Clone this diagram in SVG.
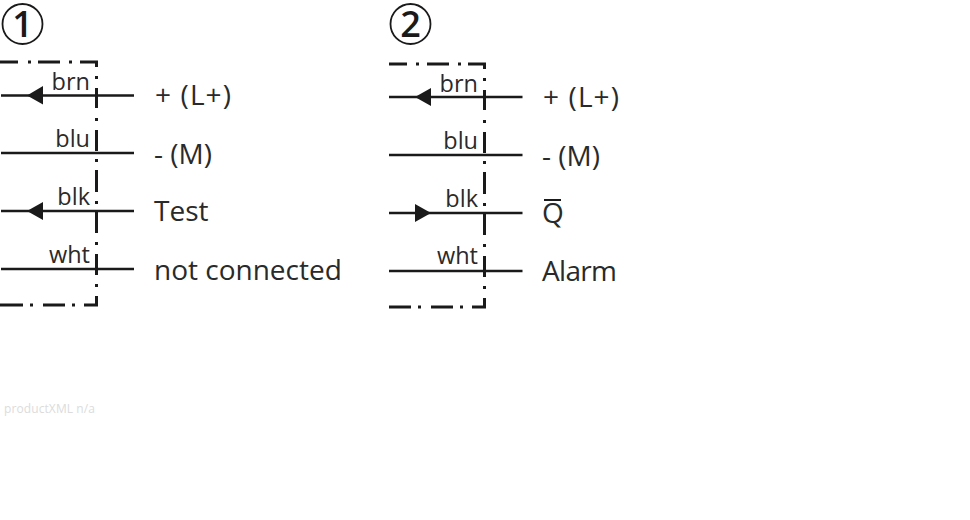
<svg xmlns="http://www.w3.org/2000/svg" width="970" height="520" viewBox="0 0 970 520">
<style>
text{font-family:"Open Sans","Noto Sans","Liberation Sans",sans-serif;fill:#2a2a2a}
.w{stroke:#1a1a1a;stroke-width:2.5;fill:none}
.b{stroke:#1a1a1a;stroke-width:3;fill:none}
.a{fill:#1a1a1a;stroke:none}
.c{font-size:23.5px;text-anchor:end}
.t{font-size:28px}
.n{font-weight:600;font-size:36px;text-anchor:middle;fill:#1a1a1a}
.r{fill:none;stroke:#1a1a1a;stroke-width:1.8}
.m{font-size:12px;fill:#dcdcdc}
</style>
<rect width="970" height="520" fill="#fff"/>
<g id="device-1">
<circle class="r" cx="22.5" cy="24" r="20"/>
<text class="n" x="22.5" y="37">1</text>
<path class="b" d="M0 62H18M28 62H31M38 62H60M69 62H72M80 62H96.5V67M96.5 76V79M96.5 88V108M96.5 118V121M96.5 130V151M96.5 159V162M96.5 170V192M96.5 201V204M96.5 212V233M96.5 242V245M96.5 254V275M96.5 284V287M96.5 296V305H84M75 305H72M65 305H43M33 305H30M23 305H0"/>
</g>
<g id="device-2">
<circle class="r" cx="410.5" cy="24" r="20"/>
<text class="n" x="410.5" y="37">2</text>
<path class="b" d="M389 64H407M416 64H419M427 64H449M458 64H461M468 64H484.5V69M484.5 78V81M484.5 90V110M484.5 120V123M484.5 132V153M484.5 161V164M484.5 172V194M484.5 203V206M484.5 214V235M484.5 244V247M484.5 256V277M484.5 286V289M484.5 298V307H472M463 307H460M453 307H431M421 307H418M411 307H389"/>
</g>
<g id="connectors">
<path class="w" d="M1 95.500H134M1 153H134M1 211H134M1 269H134M389 97H522.500M389 155H522.500M389 213H522.500M389 271H522.500"/>
<path class="a" d="M27 95.500L43 86V104.500ZM27 211L43 202V220ZM415 97L431 88V106ZM431 213L415 204V222Z"/>
</g>
<g id="labels-1">
<text class="c" x="90" y="90">brn</text>
<text class="c" x="90" y="147">blu</text>
<text class="c" x="90" y="205">blk</text>
<text class="c" x="90" y="263">wht</text>
<text class="t" x="155" y="105" textLength="76">+ (L+)</text>
<text class="t" x="154" y="164">- (M)</text>
<text class="t" x="154" y="221">Test</text>
<text class="t" x="154" y="280">not connected</text>
</g>
<g id="labels-2">
<text class="c" x="478" y="92">brn</text>
<text class="c" x="478" y="149">blu</text>
<text class="c" x="478" y="207">blk</text>
<text class="c" x="478" y="264">wht</text>
<text class="t" x="543" y="107" textLength="76">+ (L+)</text>
<text class="t" x="542" y="166">- (M)</text>
<text class="t" x="542" y="223">Q</text>
<path class="w" style="stroke-width:2" d="M544 200H561"/>
<text class="t" x="542" y="281" textLength="75">Alarm</text>
</g>
<text class="m" x="4" y="413" textLength="91">productXML n/a</text>
</svg>
